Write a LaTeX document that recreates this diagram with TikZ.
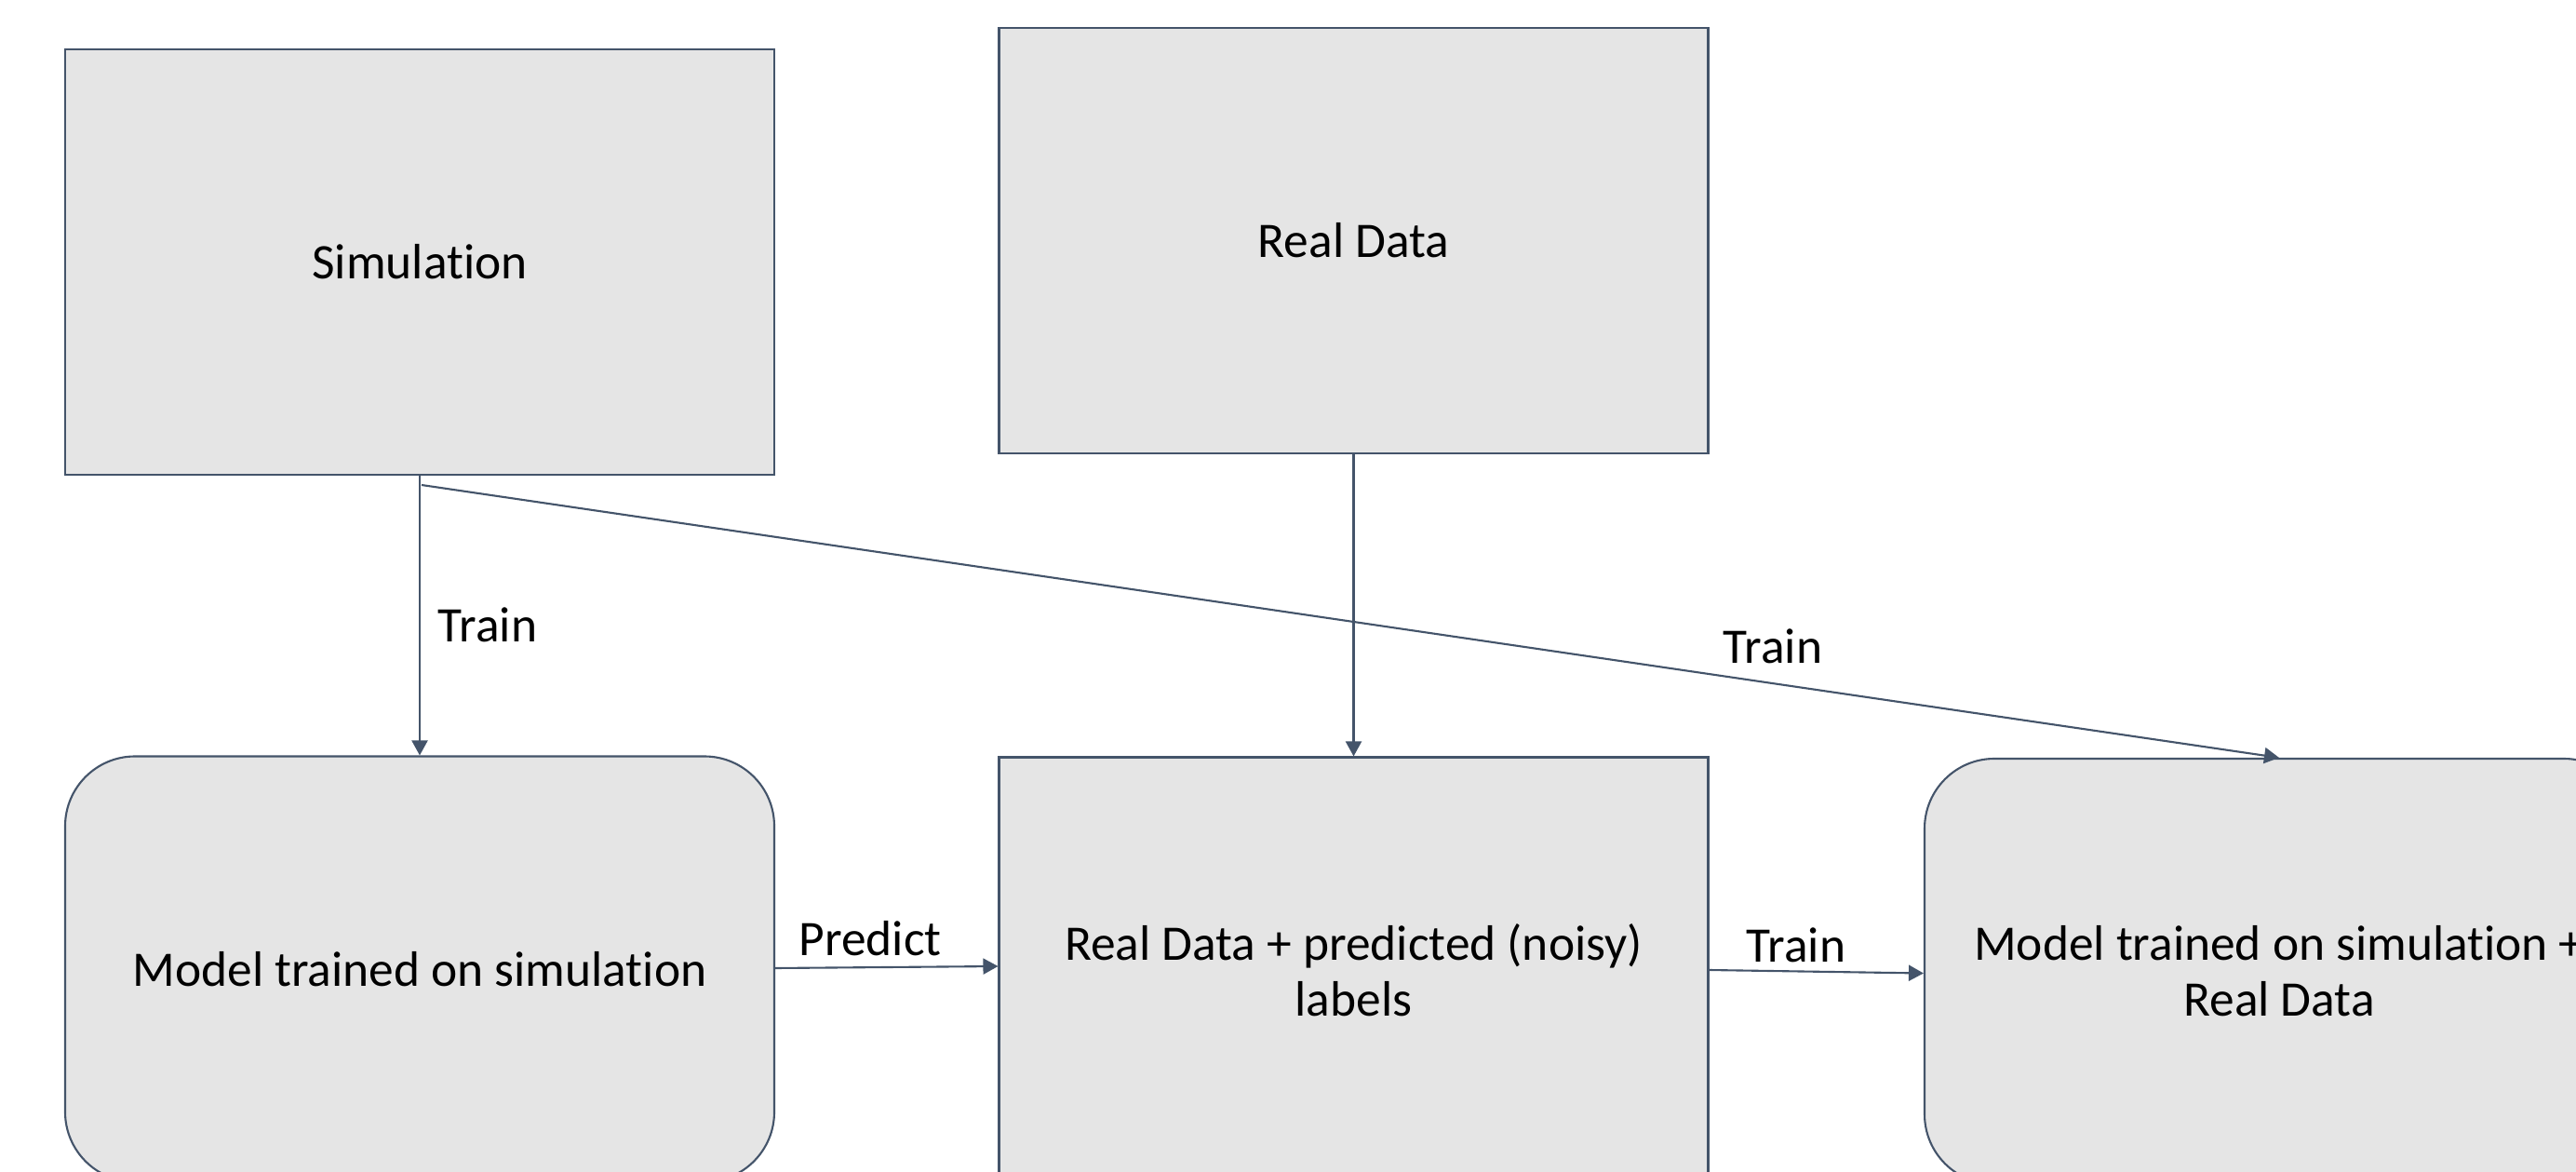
\documentclass[tikz,border=0pt]{standalone}
\usepackage{fontspec}
\setmainfont{Carlito}[Ligatures=NoCommon]
\usetikzlibrary{arrows.meta}

\definecolor{boxfill}{HTML}{E5E5E5}
\definecolor{boxline}{HTML}{44546A}
% break the t-i ligature
\newcommand{\ti}{t\kern0pt i}

\begin{document}
\begin{tikzpicture}[
		font=\fontsize{15.2}{17}\selectfont,
		databox/.style={draw=boxline, fill=boxfill, line width=0.6pt, minimum width=7.62cm, minimum height=4.57cm, align=center, inner sep=0pt},
		modelbox/.style={databox, rounded corners=0.75cm},
		flow/.style={draw=boxline, line width=0.6pt, -{Triangle[length=0.16cm, width=0.17cm]}}
	]
		\useasboundingbox (0, 0) rectangle (27.68, 12.58);
		\clip (0, 0) rectangle (27.68, 12.58);
		%sources
		\node[databox] (sim) at (4.51, 9.765) {Simula\ti on};
		\node[databox] (real) at (14.545, 9.995) {Real Data};
		%models and data
		\node[modelbox] (simmodel) at (4.51, 2.17) {Model trained on simula\ti on};
		\node[databox] (noisy) at (14.545, 2.16) {Real Data + predicted (noisy)\\labels};
		\node[modelbox] (fullmodel) at (24.49, 2.145) {Model trained on simula\ti on +\\Real Data};
		%connectors
		\coordinate (fork) at (4.53, 7.37);
		\draw[flow] (sim.south) -- (simmodel.north);
		\draw[flow] (fork) -- (fullmodel.north);
		\draw[flow] (real.south) -- (noisy.north);
		\draw[flow] ([yshift=0.01cm]simmodel.east) -- ([yshift=0.04cm]noisy.west);
		\draw[flow] (noisy.east) -- ([yshift=-0.02cm]fullmodel.west);
		%labels
		\node (trainsim) at (5.24, 5.87) {Train};
		\node (trainfull) at (19.05, 5.64) {Train};
		\node (predict) at (9.35, 2.50) {Predict};
		\node (trainnoisy) at (19.30, 2.43) {Train};
\end{tikzpicture}
\end{document}
